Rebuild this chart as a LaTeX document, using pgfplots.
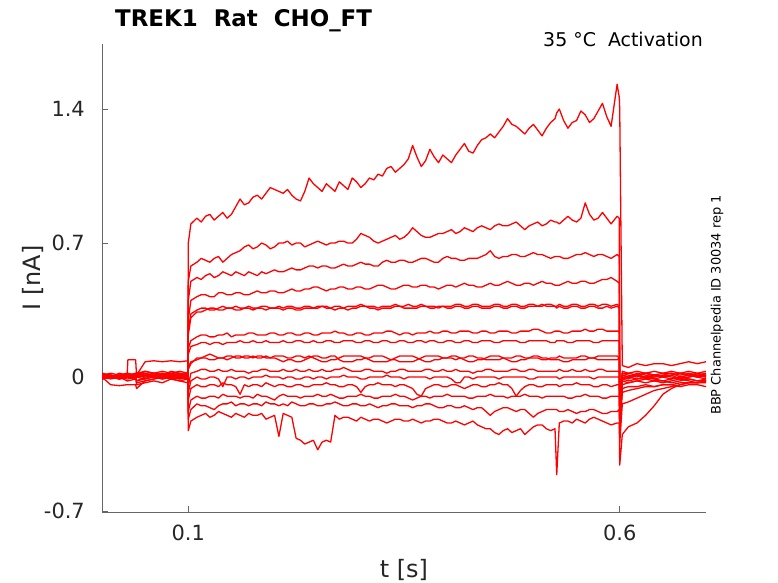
\documentclass[border=0pt]{standalone}
\usepackage{pgfplots}
\pgfplotsset{compat=1.18}
\usepackage{pgfplotstable}
\usepackage{fontspec}
\setmainfont{DejaVu Sans}
\definecolor{ticktext}{HTML}{262626}
\definecolor{axgray}{HTML}{666666}

\pgfplotstableread{
t a b c d e f g h i j k l m n o p
0.000 0.01 0.00 -0.01 0.02 0.00 0.01 -0.01 0.00 0.00 0.01 0.00 -0.01 0.00 0.01 0.00 -0.01
0.010 0.00 0.01 0.00 0.01 -0.01 0.02 0.00 0.01 0.01 0.00 0.01 0.00 -0.04 0.00 0.01 0.00
0.020 0.02 -0.01 0.01 0.00 0.00 0.01 -0.01 0.00 -0.01 0.01 0.00 0.01 -0.045 0.01 0.00 -0.01
0.029 0.01 0.00 0.00 0.01 -0.02 0.00 0.01 0.00 0.00 0.02 -0.01 0.00 -0.04 0.00 0.01 0.00
0.030 0.01 0.00 0.00 0.01 -0.02 0.00 0.01 0.00 0.09 0.02 -0.01 0.00 -0.04 0.00 0.01 0.00
0.039 0.00 0.01 -0.01 0.02 -0.01 0.01 0.00 -0.01 0.09 0.01 0.00 0.01 -0.04 0.01 0.00 -0.01
0.040 0.01 0.00 0.00 0.01 0.00 0.02 0.02 -0.02 0.01 -0.03 0.01 -0.04 -0.06 -0.02 0.01 0.00
0.050 0.02 -0.01 0.01 0.00 0.01 0.01 0.03 -0.01 0.08 -0.02 0.03 -0.03 -0.02 0.00 0.02 0.01
0.060 0.00 0.01 0.00 0.01 0.02 0.00 0.02 0.00 0.085 -0.01 0.02 -0.02 -0.01 0.01 0.01 0.00
0.070 0.01 0.00 -0.01 0.02 0.01 0.01 0.01 0.01 0.08 0.00 0.03 -0.03 0.00 0.02 0.00 -0.01
0.080 0.02 0.01 0.00 0.01 0.00 0.02 0.03 0.00 0.085 -0.01 0.02 -0.01 -0.01 0.01 0.01 0.00
0.090 0.01 0.00 0.01 0.00 0.01 0.01 0.02 -0.01 0.08 -0.02 0.03 -0.02 0.00 0.00 0.02 -0.01
0.0995 0.01 0.01 0.00 0.02 0.00 0.02 0.01 0.00 0.085 -0.01 0.02 -0.03 -0.01 0.01 0.01 0.00
0.100 0.70 0.50 0.40 0.30 0.25 0.22 0.15 0.12 0.05 0.04 -0.05 -0.08 -0.12 -0.18 -0.22 -0.28
0.103 0.80 0.58 0.50 0.40 0.33 0.31 0.19 0.16 0.08 0.07 0.02 -0.02 -0.06 -0.12 -0.17 -0.23
0.110 0.83 0.60 0.52 0.42 0.35 0.34 0.21 0.17 0.09 0.10 0.03 0.00 -0.04 -0.10 -0.14 -0.21
0.115 0.81 0.62 0.51 0.43 0.36 0.34 0.22 0.18 0.10 0.10 0.04 -0.01 -0.05 -0.11 -0.15 -0.20
0.120 0.84 0.61 0.53 0.43 0.36 0.35 0.22 0.18 0.10 0.11 0.04 -0.01 -0.05 -0.11 -0.15 -0.19
0.125 0.85 0.60 0.54 0.42 0.35 0.36 0.21 0.17 0.09 0.12 0.03 0.00 -0.04 -0.10 -0.16 -0.21
0.130 0.82 0.62 0.52 0.42 0.35 0.36 0.21 0.18 0.09 0.11 0.03 0.00 -0.04 -0.10 -0.17 -0.20
0.135 0.84 0.63 0.53 0.44 0.36 0.35 0.22 0.18 0.10 0.10 0.04 -0.01 -0.05 -0.11 -0.15 -0.18
0.140 0.86 0.60 0.55 0.44 0.37 0.35 0.22 0.17 0.10 0.10 0.03 -0.05 -0.03 -0.09 -0.14 -0.19
0.145 0.83 0.62 0.54 0.43 0.36 0.36 0.23 0.18 0.09 0.11 0.03 0.00 -0.04 -0.10 -0.14 -0.20
0.150 0.85 0.64 0.53 0.43 0.36 0.36 0.21 0.18 0.10 0.11 0.04 0.00 -0.04 -0.10 -0.13 -0.21
0.155 0.89 0.65 0.55 0.44 0.37 0.35 0.22 0.18 0.11 0.10 0.03 -0.01 -0.05 -0.10 -0.15 -0.19
0.160 0.93 0.66 0.54 0.44 0.36 0.35 0.22 0.19 0.11 0.10 0.03 0.00 -0.09 -0.11 -0.14 -0.20
0.165 0.90 0.68 0.53 0.43 0.36 0.36 0.22 0.18 0.10 0.11 0.03 0.00 -0.04 -0.10 -0.14 -0.21
0.170 0.91 0.69 0.55 0.43 0.37 0.36 0.23 0.18 0.10 0.11 0.02 -0.01 -0.05 -0.10 -0.15 -0.19
0.175 0.94 0.67 0.54 0.44 0.36 0.35 0.23 0.19 0.11 0.10 0.03 0.00 -0.04 -0.11 -0.14 -0.20
0.180 0.95 0.68 0.53 0.45 0.36 0.36 0.22 0.18 0.10 0.11 0.03 0.00 -0.04 -0.09 -0.14 -0.20
0.185 0.93 0.70 0.55 0.44 0.37 0.36 0.22 0.18 0.10 0.11 0.04 0.00 -0.05 -0.10 -0.15 -0.19
0.190 0.96 0.69 0.54 0.44 0.37 0.35 0.22 0.19 0.11 0.10 0.04 0.01 -0.03 -0.10 -0.13 -0.22
0.195 0.99 0.67 0.55 0.45 0.36 0.36 0.23 0.18 0.10 0.10 0.03 0.00 -0.04 -0.11 -0.14 -0.21
0.200 0.98 0.68 0.56 0.45 0.36 0.36 0.23 0.18 0.10 0.11 0.03 0.00 -0.05 -0.12 -0.14 -0.20
0.205 0.97 0.70 0.55 0.44 0.37 0.36 0.22 0.18 0.09 0.11 0.03 0.00 -0.04 -0.10 -0.15 -0.31
0.210 0.96 0.70 0.55 0.44 0.36 0.35 0.22 0.19 0.08 0.11 0.04 -0.01 -0.04 -0.09 -0.14 -0.19
0.215 0.98 0.71 0.56 0.45 0.37 0.36 0.23 0.18 0.09 0.10 0.03 0.00 -0.05 -0.10 -0.15 -0.20
0.220 0.95 0.69 0.57 0.46 0.37 0.36 0.23 0.18 0.09 0.10 0.03 0.00 -0.05 -0.10 -0.13 -0.21
0.225 0.93 0.70 0.56 0.45 0.36 0.35 0.22 0.19 0.08 0.11 0.04 -0.01 -0.04 -0.10 -0.14 -0.32
0.230 0.92 0.70 0.56 0.45 0.36 0.35 0.22 0.19 0.08 0.11 0.03 -0.01 -0.04 -0.11 -0.15 -0.33
0.235 0.97 0.68 0.57 0.46 0.37 0.36 0.23 0.18 0.09 0.10 0.03 0.00 -0.05 -0.10 -0.15 -0.35
0.240 1.04 0.69 0.58 0.46 0.37 0.36 0.23 0.18 0.10 0.11 0.04 0.00 -0.05 -0.10 -0.14 -0.34
0.245 1.01 0.70 0.58 0.47 0.36 0.36 0.22 0.19 0.11 0.10 0.03 -0.01 -0.04 -0.10 -0.14 -0.33
0.250 0.99 0.71 0.57 0.47 0.36 0.37 0.22 0.18 0.11 0.09 0.03 0.00 -0.04 -0.09 -0.15 -0.38
0.255 0.97 0.70 0.58 0.46 0.37 0.37 0.23 0.18 0.10 0.08 0.04 0.00 -0.04 -0.10 -0.15 -0.34
0.260 1.01 0.69 0.58 0.45 0.37 0.36 0.23 0.19 0.10 0.08 0.03 -0.01 -0.03 -0.10 -0.14 -0.33
0.265 0.99 0.70 0.57 0.46 0.36 0.36 0.23 0.19 0.11 0.09 0.03 0.00 -0.04 -0.09 -0.14 -0.34
0.270 0.97 0.70 0.57 0.46 0.37 0.35 0.24 0.18 0.11 0.09 0.04 0.00 -0.04 -0.10 -0.13 -0.20
0.275 1.02 0.71 0.58 0.47 0.37 0.36 0.23 0.18 0.09 0.10 0.04 0.00 -0.05 -0.11 -0.14 -0.22
0.280 1.00 0.71 0.59 0.47 0.36 0.36 0.23 0.19 0.08 0.11 0.05 0.01 -0.05 -0.11 -0.15 -0.21
0.285 0.98 0.70 0.58 0.46 0.37 0.35 0.22 0.19 0.08 0.11 0.04 0.00 -0.04 -0.10 -0.15 -0.21
0.290 1.04 0.70 0.58 0.46 0.37 0.36 0.22 0.19 0.08 0.11 0.03 0.00 -0.04 -0.10 -0.14 -0.22
0.295 1.02 0.72 0.59 0.47 0.37 0.36 0.23 0.18 0.09 0.11 0.03 0.00 -0.05 -0.10 -0.14 -0.23
0.300 0.99 0.75 0.60 0.47 0.38 0.37 0.23 0.18 0.09 0.11 0.03 -0.01 -0.08 -0.09 -0.15 -0.21
0.305 1.01 0.74 0.59 0.46 0.37 0.37 0.22 0.19 0.10 0.10 0.04 -0.01 -0.05 -0.10 -0.15 -0.22
0.310 1.04 0.73 0.59 0.46 0.37 0.36 0.22 0.19 0.10 0.09 0.04 0.00 -0.04 -0.10 -0.14 -0.23
0.315 1.03 0.71 0.58 0.47 0.37 0.36 0.23 0.18 0.11 0.08 0.03 0.00 -0.04 -0.11 -0.15 -0.22
0.320 1.06 0.70 0.58 0.48 0.36 0.35 0.23 0.18 0.11 0.08 0.03 0.00 -0.03 -0.11 -0.16 -0.22
0.325 1.05 0.71 0.60 0.48 0.37 0.36 0.23 0.19 0.11 0.08 0.03 0.00 -0.04 -0.10 -0.15 -0.23
0.330 1.09 0.72 0.61 0.47 0.37 0.36 0.24 0.19 0.10 0.08 0.02 0.01 -0.04 -0.10 -0.15 -0.24
0.335 1.10 0.73 0.60 0.46 0.37 0.36 0.24 0.18 0.09 0.09 0.03 0.00 -0.04 -0.10 -0.14 -0.23
0.340 1.07 0.74 0.60 0.46 0.38 0.37 0.23 0.18 0.09 0.10 0.03 0.00 -0.05 -0.09 -0.14 -0.22
0.345 1.09 0.72 0.61 0.47 0.37 0.37 0.22 0.19 0.08 0.11 0.04 0.00 -0.04 -0.10 -0.15 -0.22
0.350 1.11 0.73 0.61 0.48 0.37 0.36 0.23 0.19 0.08 0.11 0.04 -0.01 -0.04 -0.10 -0.15 -0.23
0.355 1.14 0.75 0.60 0.48 0.38 0.36 0.23 0.18 0.08 0.11 0.03 0.00 -0.05 -0.11 -0.15 -0.23
0.360 1.21 0.78 0.60 0.47 0.37 0.36 0.22 0.18 0.08 0.11 0.03 0.00 -0.06 -0.12 -0.16 -0.22
0.365 1.15 0.76 0.61 0.47 0.37 0.36 0.23 0.19 0.09 0.10 0.03 0.00 -0.09 -0.11 -0.15 -0.23
0.370 1.10 0.74 0.62 0.48 0.38 0.37 0.23 0.19 0.10 0.09 0.03 0.00 -0.10 -0.10 -0.15 -0.24
0.375 1.13 0.73 0.62 0.48 0.37 0.37 0.23 0.18 0.11 0.08 0.04 0.00 -0.06 -0.10 -0.14 -0.23
0.380 1.19 0.73 0.61 0.47 0.37 0.36 0.24 0.19 0.11 0.08 0.04 -0.01 -0.05 -0.11 -0.14 -0.23
0.385 1.15 0.74 0.60 0.47 0.37 0.36 0.23 0.19 0.11 0.09 0.03 0.00 -0.04 -0.10 -0.15 -0.22
0.390 1.12 0.75 0.60 0.46 0.36 0.37 0.23 0.18 0.11 0.09 0.03 0.00 -0.04 -0.10 -0.16 -0.22
0.395 1.16 0.75 0.62 0.47 0.37 0.37 0.24 0.18 0.10 0.10 0.04 0.00 -0.05 -0.10 -0.16 -0.23
0.400 1.14 0.76 0.63 0.48 0.37 0.36 0.24 0.19 0.10 0.10 0.03 0.00 -0.05 -0.09 -0.15 -0.24
0.405 1.12 0.77 0.62 0.48 0.37 0.36 0.23 0.19 0.10 0.11 0.03 -0.01 -0.04 -0.10 -0.15 -0.24
0.410 1.16 0.75 0.62 0.47 0.38 0.37 0.23 0.18 0.09 0.11 0.04 -0.03 -0.04 -0.10 -0.16 -0.23
0.415 1.19 0.76 0.61 0.48 0.38 0.37 0.24 0.18 0.10 0.10 0.03 -0.03 -0.05 -0.10 -0.16 -0.24
0.420 1.22 0.78 0.61 0.49 0.37 0.36 0.24 0.19 0.10 0.09 0.03 0.00 -0.06 -0.10 -0.15 -0.25
0.425 1.18 0.77 0.62 0.48 0.37 0.36 0.24 0.19 0.11 0.08 0.03 0.00 -0.05 -0.11 -0.16 -0.24
0.430 1.17 0.76 0.62 0.48 0.38 0.37 0.23 0.18 0.11 0.08 0.02 -0.01 -0.04 -0.11 -0.17 -0.23
0.435 1.21 0.78 0.62 0.47 0.38 0.37 0.23 0.18 0.10 0.09 0.03 0.00 -0.04 -0.10 -0.16 -0.25
0.440 1.24 0.79 0.63 0.47 0.37 0.36 0.24 0.19 0.10 0.09 0.03 0.00 -0.05 -0.10 -0.16 -0.26
0.445 1.25 0.78 0.64 0.48 0.37 0.36 0.24 0.19 0.09 0.10 0.04 0.00 -0.05 -0.10 -0.18 -0.27
0.450 1.27 0.77 0.66 0.49 0.37 0.36 0.23 0.19 0.09 0.11 0.04 0.00 -0.04 -0.09 -0.20 -0.27
0.455 1.25 0.79 0.63 0.48 0.38 0.37 0.23 0.18 0.09 0.11 0.03 0.00 -0.04 -0.10 -0.18 -0.29
0.460 1.28 0.80 0.62 0.48 0.38 0.37 0.24 0.18 0.09 0.11 0.03 -0.01 -0.03 -0.10 -0.17 -0.30
0.465 1.31 0.79 0.63 0.49 0.37 0.36 0.24 0.19 0.10 0.10 0.03 0.00 -0.04 -0.10 -0.16 -0.28
0.470 1.35 0.79 0.63 0.50 0.37 0.36 0.24 0.19 0.10 0.09 0.03 0.00 -0.04 -0.11 -0.16 -0.27
0.475 1.32 0.80 0.64 0.49 0.38 0.37 0.23 0.19 0.10 0.08 0.04 0.00 -0.06 -0.10 -0.17 -0.29
0.480 1.31 0.81 0.64 0.48 0.38 0.37 0.23 0.19 0.11 0.08 0.04 0.00 -0.10 -0.10 -0.18 -0.28
0.485 1.29 0.79 0.63 0.48 0.37 0.36 0.24 0.18 0.11 0.09 0.03 0.00 -0.07 -0.10 -0.17 -0.27
0.490 1.27 0.77 0.63 0.49 0.37 0.36 0.24 0.18 0.10 0.09 0.03 0.00 -0.05 -0.09 -0.17 -0.30
0.495 1.30 0.79 0.64 0.49 0.38 0.37 0.24 0.19 0.10 0.10 0.04 -0.01 -0.04 -0.10 -0.19 -0.28
0.500 1.32 0.80 0.65 0.48 0.38 0.37 0.25 0.19 0.10 0.11 0.04 -0.01 -0.04 -0.10 -0.21 -0.26
0.505 1.29 0.81 0.64 0.49 0.37 0.37 0.25 0.19 0.10 0.11 0.03 0.00 -0.05 -0.10 -0.19 -0.25
0.510 1.26 0.79 0.64 0.50 0.37 0.38 0.24 0.19 0.09 0.10 0.03 0.00 -0.05 -0.11 -0.18 -0.25
0.515 1.30 0.80 0.63 0.49 0.38 0.37 0.23 0.19 0.09 0.10 0.03 0.00 -0.04 -0.10 -0.17 -0.27
0.520 1.33 0.82 0.62 0.49 0.38 0.37 0.23 0.18 0.10 0.09 0.03 0.00 -0.04 -0.10 -0.17 -0.28
0.525 1.35 0.81 0.63 0.48 0.37 0.37 0.24 0.18 0.10 0.09 0.03 0.00 -0.04 -0.10 -0.17 -0.27
0.527 1.38 0.81 0.63 0.48 0.37 0.36 0.24 0.19 0.10 0.09 0.03 0.00 -0.04 -0.10 -0.17 -0.51
0.530 1.40 0.80 0.63 0.48 0.38 0.37 0.24 0.19 0.11 0.09 0.04 -0.01 -0.05 -0.10 -0.18 -0.24
0.535 1.34 0.82 0.62 0.49 0.37 0.36 0.23 0.19 0.10 0.08 0.03 0.00 -0.04 -0.10 -0.18 -0.23
0.540 1.30 0.84 0.62 0.50 0.37 0.36 0.23 0.18 0.10 0.08 0.03 0.00 -0.04 -0.11 -0.17 -0.23
0.545 1.33 0.82 0.63 0.49 0.38 0.37 0.24 0.18 0.10 0.09 0.04 0.00 -0.04 -0.11 -0.18 -0.24
0.550 1.34 0.81 0.64 0.49 0.38 0.37 0.24 0.19 0.10 0.09 0.03 0.00 -0.03 -0.10 -0.19 -0.22
0.555 1.39 0.83 0.64 0.50 0.37 0.36 0.24 0.19 0.11 0.09 0.03 0.00 -0.04 -0.10 -0.18 -0.23
0.560 1.37 0.91 0.65 0.50 0.37 0.36 0.25 0.19 0.11 0.09 0.04 0.00 -0.04 -0.09 -0.18 -0.24
0.565 1.33 0.85 0.64 0.49 0.38 0.37 0.24 0.19 0.10 0.10 0.03 0.00 -0.04 -0.10 -0.17 -0.22
0.570 1.35 0.82 0.63 0.49 0.38 0.37 0.24 0.18 0.10 0.10 0.03 -0.01 -0.05 -0.10 -0.17 -0.21
0.575 1.39 0.83 0.64 0.50 0.37 0.36 0.25 0.18 0.11 0.09 0.04 0.00 -0.05 -0.10 -0.18 -0.22
0.580 1.43 0.86 0.64 0.51 0.38 0.36 0.25 0.19 0.11 0.09 0.04 0.00 -0.04 -0.11 -0.19 -0.23
0.585 1.36 0.83 0.63 0.51 0.38 0.37 0.24 0.19 0.11 0.09 0.03 0.00 -0.04 -0.11 -0.19 -0.24
0.590 1.31 0.80 0.62 0.52 0.37 0.36 0.24 0.19 0.11 0.09 0.03 0.00 -0.05 -0.10 -0.18 -0.25
0.597 1.53 0.84 0.64 0.50 0.38 0.37 0.24 0.19 0.11 0.09 0.03 0.00 -0.04 -0.10 -0.18 -0.24
0.5995 1.46 0.83 0.63 0.49 0.37 0.36 0.24 0.19 0.10 0.10 0.03 0.00 -0.04 -0.10 -0.17 -0.24
0.600 1.40 -0.10 -0.12 -0.13 -0.15 -0.15 -0.18 -0.18 -0.20 -0.20 -0.22 -0.24 -0.26 -0.30 -0.35 -0.46
0.603 0.06 0.02 0.01 0.00 0.03 0.01 0.02 -0.01 0.01 -0.02 -0.01 -0.04 -0.06 -0.08 -0.14 -0.30
0.610 0.05 0.01 0.00 -0.01 0.02 0.00 0.02 -0.02 0.00 -0.03 0.00 -0.03 -0.05 -0.07 -0.13 -0.26
0.620 0.07 0.00 0.02 0.01 0.03 0.01 0.01 -0.01 0.01 -0.02 -0.01 -0.02 -0.05 -0.06 -0.11 -0.24
0.630 0.06 0.02 0.01 0.00 0.02 -0.01 0.02 0.00 0.02 -0.01 0.00 -0.03 -0.04 -0.05 -0.09 -0.20
0.640 0.07 0.01 0.00 -0.01 0.03 0.00 0.01 -0.01 0.01 -0.02 0.01 -0.02 -0.05 -0.05 -0.07 -0.15
0.650 0.07 0.00 0.01 0.00 0.02 0.01 0.02 -0.02 0.00 -0.03 0.00 -0.02 -0.04 -0.04 -0.06 -0.09
0.660 0.06 0.01 0.02 0.01 0.03 0.00 0.02 -0.01 0.01 -0.02 -0.01 -0.03 -0.04 -0.04 -0.05 -0.06
0.670 0.07 0.02 0.00 -0.01 0.02 -0.01 0.01 0.00 0.02 -0.01 0.00 -0.02 -0.05 -0.03 -0.04 -0.04
0.680 0.08 0.01 0.01 0.00 0.03 0.00 0.02 -0.01 0.01 -0.02 0.01 -0.01 -0.04 -0.03 -0.03 -0.03
0.690 0.07 0.00 0.02 0.01 0.02 0.01 0.01 -0.02 0.00 -0.03 0.00 -0.02 -0.04 -0.03 -0.03 -0.03
0.700 0.08 0.01 0.01 0.00 0.03 0.00 0.02 -0.01 0.01 -0.02 -0.01 -0.02 -0.05 -0.03 -0.02 -0.02
}\traces

\begin{document}
\begin{tikzpicture}
\begin{axis}[
  at={(102bp,71bp)}, anchor=south west,
  scale only axis, width=604bp, height=468bp,
  xmin=0, xmax=0.7, ymin=-0.705, ymax=1.74,
  axis lines*=left,
  axis line style={-, draw=axgray, line width=0.8bp},
  tick align=inside,
  major tick length=6bp,
  tick style={draw=axgray, line width=0.8bp},
  xtick={0.1,0.6}, xticklabels={0.1,0.6},
  ytick={-0.7,0,0.7,1.4}, yticklabels={-0.7,0,0.7,1.4},
  xticklabel style={font=\fontsize{21}{24}\selectfont, text=ticktext, inner sep=0pt, anchor=north, yshift=-13bp},
  yticklabel style={font=\fontsize{21}{24}\selectfont, text=ticktext, inner sep=0pt, anchor=east, xshift=-17bp},
  xlabel={t [s]}, ylabel={I [nA]},
  xlabel style={font=\fontsize{24}{28}\selectfont, text=ticktext, inner sep=0pt, at={(axis description cs:0.5,-0.139)}, anchor=base},
  ylabel style={font=\fontsize{24}{28}\selectfont, text=ticktext, inner sep=0pt, at={(axis description cs:-0.101,0.5)}, anchor=base},
]
\pgfplotsinvokeforeach{a,b,c,d,e,f,g,h,i,j,k,l,m,n,o,p}{
  \addplot[red, line width=1.3bp, line join=round] table[x=t, y=#1] {\traces};
}
\end{axis}
\pgfresetboundingbox
\path[use as bounding box] (0,0) rectangle (778bp,583bp);
\node[anchor=base west, inner sep=0pt, font=\fontsize{23}{27}\selectfont\bfseries] at (115bp,556bp) {TREK1\ \ Rat\ \ CHO\_FT};
\node[anchor=base east, inner sep=0pt, font=\fontsize{19}{22}\selectfont] at (703bp,536bp) {35 °C\ \ Activation};
\node[rotate=90, anchor=center, inner sep=0pt, font=\fontsize{13}{15}\selectfont] at (717bp,278bp) {BBP Channelpedia ID 30034 rep 1};
\end{tikzpicture}
\end{document}
